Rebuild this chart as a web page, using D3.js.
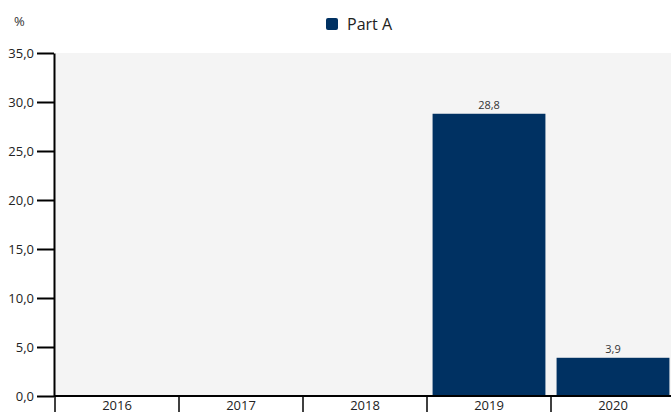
<!DOCTYPE html>
<html>
<head>
<meta charset="utf-8">
<script src="https://cdn.jsdelivr.net/npm/d3@7"></script>
<style>
  body { margin: 0; background: #fff; }
  svg { display: block; font-family: "Open Sans", "Noto Sans", sans-serif; }
</style>
</head>
<body>
<svg id="chart" width="671" height="412"></svg>
<script>
const years = ["2016", "2017", "2018", "2019", "2020"];
const partA = [null, null, null, 28.8, 3.9];
const yTicks = [0, 5, 10, 15, 20, 25, 30, 35];
const seriesName = "Part A";

const width = 671, height = 412;
const margin = { top: 53, right: 0, bottom: 16, left: 55 };
const svg = d3.select("#chart");
const fmt = v => d3.format(".1f")(v).replace(".", ",");

// last band runs slightly past the right edge, as in the reference
const x = d3.scaleBand().domain(years)
    .range([margin.left, width + 4])
    .paddingInner(0.09).paddingOuter(0.045);
const y = d3.scaleLinear().domain([0, 35]).range([height - margin.bottom, margin.top]);

// plot background
svg.append("rect")
    .attr("x", margin.left).attr("y", margin.top)
    .attr("width", width - margin.left - margin.right)
    .attr("height", y(0) - margin.top)
    .attr("fill", "#f4f4f4");

// bars
const data = years.map((yr, i) => ({ yr, v: partA[i] })).filter(d => d.v != null);
svg.append("g").selectAll("rect").data(data).join("rect")
    .attr("x", d => x(d.yr))
    .attr("y", d => y(d.v))
    .attr("width", x.bandwidth())
    .attr("height", d => y(0) - y(d.v))
    .attr("fill", "#003162");

svg.append("g").selectAll("text").data(data).join("text")
    .attr("x", d => x(d.yr) + x.bandwidth() / 2)
    .attr("y", d => y(d.v) - 5)
    .attr("text-anchor", "middle")
    .attr("font-size", 11)
    .attr("fill", "#333")
    .text(d => fmt(d.v));

// y axis
const yAxis = svg.append("g")
    .attr("transform", `translate(${margin.left - 1},0)`)
    .call(d3.axisLeft(y).tickValues(yTicks).tickFormat(fmt).tickSize(17).tickSizeOuter(0).tickPadding(3));
yAxis.select(".domain").attr("stroke", "#000").attr("stroke-width", 2);
yAxis.selectAll(".tick line").attr("stroke", "#000").attr("stroke-width", 2);
yAxis.selectAll(".tick text").attr("font-size", 13).attr("fill", "#222")
    .attr("font-family", "'Open Sans', 'Noto Sans', sans-serif");

// x axis: baseline + band-edge ticks
const xg = svg.append("g");
xg.append("line")
    .attr("x1", margin.left - 1).attr("x2", width)
    .attr("y1", y(0)).attr("y2", y(0))
    .attr("stroke", "#000").attr("stroke-width", 2);
const step = x.step();
const edges = years.map(yr => x(yr) - step * x.paddingInner() / 2);
xg.selectAll("line.edge").data(edges).join("line")
    .attr("class", "edge")
    .attr("x1", d => Math.round(d)).attr("x2", d => Math.round(d))
    .attr("y1", y(0)).attr("y2", height)
    .attr("stroke", "#000").attr("stroke-width", 1.5);
xg.selectAll("text").data(years).join("text")
    .attr("x", d => x(d) + x.bandwidth() / 2)
    .attr("y", height - 2)
    .attr("text-anchor", "middle")
    .attr("font-size", 13)
    .attr("fill", "#222")
    .text(d => d);

// unit label
svg.append("text")
    .attr("x", 14).attr("y", 26)
    .attr("font-size", 13).attr("fill", "#333")
    .text("%");

// legend
const lg = svg.append("g").attr("transform", "translate(326,18)");
lg.append("rect").attr("width", 12).attr("height", 12).attr("rx", 2)
    .attr("fill", "#003162");
lg.append("text").attr("x", 21).attr("y", 11.5)
    .attr("font-size", 16).attr("fill", "#222")
    .text(seriesName);
</script>
</body>
</html>
